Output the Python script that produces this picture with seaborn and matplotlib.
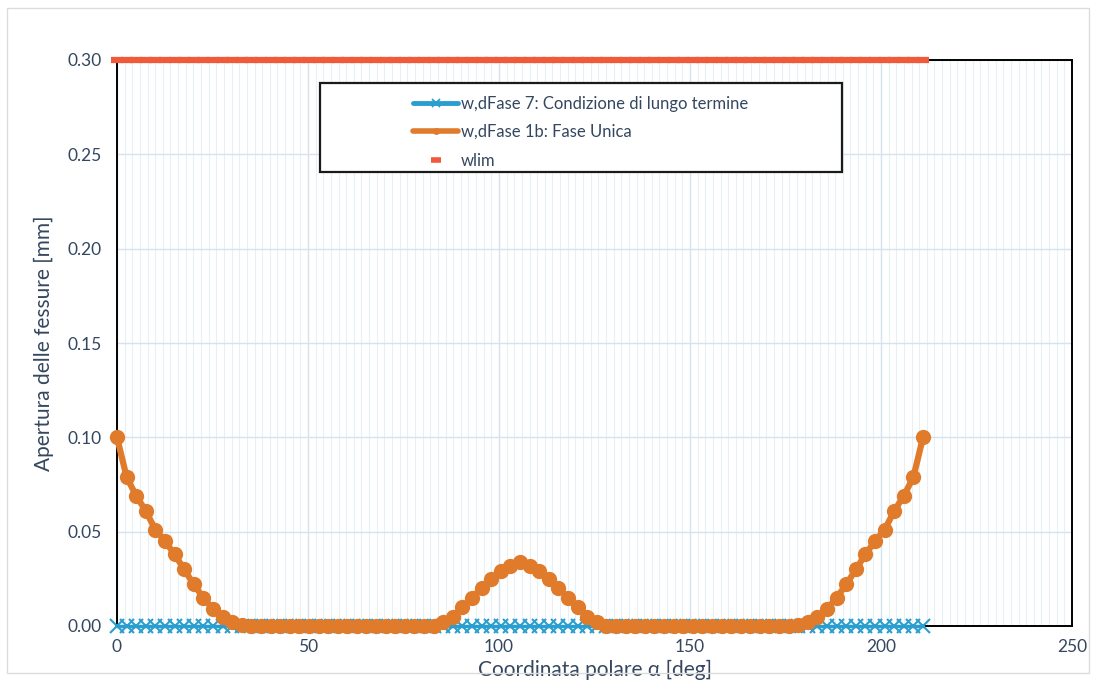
import matplotlib
matplotlib.use("Agg")
import matplotlib.pyplot as plt
from matplotlib.patches import Rectangle
from matplotlib.ticker import MultipleLocator, FormatStrFormatter
from matplotlib.lines import Line2D
import seaborn as sns
import pandas as pd

# Polar coordinate of the lining sections [deg]
alpha = [
    0.00, 2.51, 5.02, 7.54, 10.05, 12.56, 15.07, 17.58, 20.10, 22.61,
    25.12, 27.63, 30.14, 32.65, 35.17, 37.68, 40.19, 42.70, 45.21, 47.73,
    50.24, 52.75, 55.26, 57.77, 60.29, 62.80, 65.31, 67.82, 70.33, 72.85,
    75.36, 77.87, 80.38, 82.89, 85.40, 87.92, 90.43, 92.94, 95.45, 97.96,
    100.48, 102.99, 105.50, 108.01, 110.52, 113.04, 115.55, 118.06, 120.57, 123.08,
    125.60, 128.11, 130.62, 133.13, 135.64, 138.15, 140.67, 143.18, 145.69, 148.20,
    150.71, 153.23, 155.74, 158.25, 160.76, 163.27, 165.79, 168.30, 170.81, 173.32,
    175.83, 178.35, 180.86, 183.37, 185.88, 188.39, 190.90, 193.42, 195.93, 198.44,
    200.95, 203.46, 205.98, 208.49, 211.00,
]

# Crack width, phase 7 (long term) [mm]
w_fase7 = [
    0.0, 0.0, 0.0, 0.0, 0.0, 0.0, 0.0, 0.0, 0.0, 0.0,
    0.0, 0.0, 0.0, 0.0, 0.0, 0.0, 0.0, 0.0, 0.0, 0.0,
    0.0, 0.0, 0.0, 0.0, 0.0, 0.0, 0.0, 0.0, 0.0, 0.0,
    0.0, 0.0, 0.0, 0.0, 0.0, 0.0, 0.0, 0.0, 0.0, 0.0,
    0.0, 0.0, 0.0, 0.0, 0.0, 0.0, 0.0, 0.0, 0.0, 0.0,
    0.0, 0.0, 0.0, 0.0, 0.0, 0.0, 0.0, 0.0, 0.0, 0.0,
    0.0, 0.0, 0.0, 0.0, 0.0, 0.0, 0.0, 0.0, 0.0, 0.0,
    0.0, 0.0, 0.0, 0.0, 0.0, 0.0, 0.0, 0.0, 0.0, 0.0,
    0.0, 0.0, 0.0, 0.0, 0.0,
]

# Crack width, phase 1b (single phase) [mm]
w_fase1b = [
    0.100, 0.079, 0.069, 0.061, 0.051, 0.045, 0.038, 0.030, 0.022, 0.015,
    0.009, 0.005, 0.002, 0.0005, 0.0, 0.0, 0.0, 0.0, 0.0, 0.0,
    0.0, 0.0, 0.0, 0.0, 0.0, 0.0, 0.0, 0.0, 0.0, 0.0,
    0.0, 0.0, 0.0, 0.0, 0.002, 0.005, 0.010, 0.015, 0.020, 0.025,
    0.029, 0.032, 0.034, 0.032, 0.029, 0.025, 0.020, 0.015, 0.010, 0.005,
    0.002, 0.0, 0.0, 0.0, 0.0, 0.0, 0.0, 0.0, 0.0, 0.0,
    0.0, 0.0, 0.0, 0.0, 0.0, 0.0, 0.0, 0.0, 0.0, 0.0,
    0.0, 0.0005, 0.002, 0.005, 0.009, 0.015, 0.022, 0.030, 0.038, 0.045,
    0.051, 0.061, 0.069, 0.079, 0.100,
]

# Crack width limit [mm]
w_lim = [
    0.30, 0.30, 0.30, 0.30, 0.30, 0.30, 0.30, 0.30, 0.30, 0.30,
    0.30, 0.30, 0.30, 0.30, 0.30, 0.30, 0.30, 0.30, 0.30, 0.30,
    0.30, 0.30, 0.30, 0.30, 0.30, 0.30, 0.30, 0.30, 0.30, 0.30,
    0.30, 0.30, 0.30, 0.30, 0.30, 0.30, 0.30, 0.30, 0.30, 0.30,
    0.30, 0.30, 0.30, 0.30, 0.30, 0.30, 0.30, 0.30, 0.30, 0.30,
    0.30, 0.30, 0.30, 0.30, 0.30, 0.30, 0.30, 0.30, 0.30, 0.30,
    0.30, 0.30, 0.30, 0.30, 0.30, 0.30, 0.30, 0.30, 0.30, 0.30,
    0.30, 0.30, 0.30, 0.30, 0.30, 0.30, 0.30, 0.30, 0.30, 0.30,
    0.30, 0.30, 0.30, 0.30, 0.30,
]

labels = [
    "w,dFase 7: Condizione di lungo termine",
    "w,dFase 1b: Fase Unica",
    "wlim",
]
x_ticks = [0, 50, 100, 150, 200, 250]
y_ticks = [0.00, 0.05, 0.10, 0.15, 0.20, 0.25, 0.30]

C_CYAN = "#2b9ed0"
C_ORANGE = "#e07b2c"
C_RED = "#f05a3a"
C_TEXT = "#34475f"

sns.set_theme(style="white")
plt.rcParams["font.family"] = ["Lato", "DejaVu Sans"]

df = pd.DataFrame({"alpha": alpha, "w7": w_fase7, "w1b": w_fase1b, "wlim": w_lim})

W, H = 1093, 681
fig = plt.figure(figsize=(W / 100, H / 100), dpi=100)
fig.patch.set_facecolor("white")
fig.patches.append(Rectangle((7 / W, 8 / H), 1082 / W, 665 / H, transform=fig.transFigure,
                             fill=False, edgecolor="#dcdcdc", linewidth=1.0))

L, R, T, B = 117, 1072, 60, 626
ax = fig.add_axes([L / W, 1 - B / H, (R - L) / W, (B - T) / H])

sns.lineplot(data=df, x="alpha", y="w7", ax=ax, color=C_CYAN, linewidth=2.5,
             marker="x", markersize=10, markeredgewidth=1.5, markeredgecolor=C_CYAN,
             clip_on=False, zorder=3)
sns.lineplot(data=df, x="alpha", y="w1b", ax=ax, color=C_ORANGE, linewidth=4.5,
             marker="o", markersize=11, markeredgewidth=0, clip_on=False, zorder=4)
sns.lineplot(data=df, x="alpha", y="wlim", ax=ax, color=C_RED, linestyle="",
             marker="_", markersize=8, markeredgewidth=4.5, markeredgecolor=C_RED,
             clip_on=False, zorder=6)

ax.set_xlim(0, 250)
ax.set_ylim(0, 0.30)
ax.set_xticks(x_ticks)
ax.set_yticks(y_ticks)
ax.yaxis.set_major_formatter(FormatStrFormatter("%.2f"))
ax.xaxis.set_minor_locator(MultipleLocator(2))

ax.grid(True, which="major", color="#d6e3ee", linewidth=1.0, zorder=0)
ax.grid(True, which="minor", axis="x", color="#e8f0f6", linewidth=0.8, zorder=0)
ax.set_axisbelow(True)

for s in ax.spines.values():
    s.set_visible(True)
    s.set_color("black")
    s.set_linewidth(1.4)

ax.tick_params(axis="both", which="major", direction="out", length=5, width=1.2,
               color="black", labelsize=12.5, labelcolor=C_TEXT, pad=6)
ax.tick_params(axis="both", which="minor", length=0)
ax.tick_params(axis="x", which="major", length=6, pad=3)

ax.set_xlabel("Coordinata polare α [deg]", fontsize=15, color=C_TEXT)
ax.set_ylabel("Apertura delle fessure [mm]", fontsize=15, color=C_TEXT)
ax.xaxis.set_label_coords(0.5, -0.06)
ax.yaxis.set_label_coords(-0.066, 0.5)

# Legend box with its entries
box = Rectangle((0.2126, 0.802), 0.5466, 0.157, transform=ax.transAxes,
                facecolor="white", edgecolor="#1a1a1a", linewidth=1.6, zorder=7,
                clip_on=False)
ax.add_patch(box)
handles = [
    Line2D([], [], color=C_CYAN, linewidth=3.5, marker="x", markersize=6,
           markeredgewidth=1.3),
    Line2D([], [], color=C_ORANGE, linewidth=4, marker="o", markersize=5,
           markeredgewidth=0),
    Line2D([], [], color=C_RED, linestyle="", marker="_", markersize=7,
           markeredgewidth=4),
]
leg = ax.legend(handles, labels, loc="upper left", bbox_to_anchor=(0.3016, 0.952),
                frameon=False, borderpad=0, fontsize=12, handlelength=2.7,
                handletextpad=0.15, labelspacing=0.75)
leg.set_zorder(8)
for t in leg.get_texts():
    t.set_color(C_TEXT)

fig.savefig("out.png", dpi=100, facecolor="white")
